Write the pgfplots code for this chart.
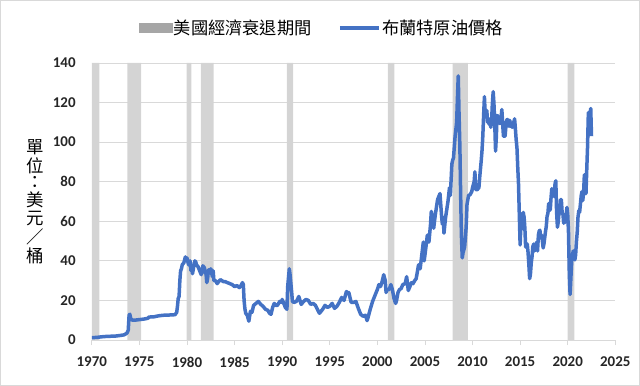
\documentclass[border=0pt]{standalone}
\usepackage{pgfplots}
\pgfplotsset{compat=1.18}
\usepackage{pgfplotstable}
\usepackage{fontspec}
\setmainfont{Carlito}
\newfontfamily\cjk{Noto Sans CJK TC}
\newfontfamily\tickbf{Carlito}[UprightFont={* Bold}]
\definecolor{oil}{HTML}{4472C4}
\definecolor{band}{HTML}{D4D4D4}
\definecolor{bandleg}{HTML}{A6A6A6}
\definecolor{gridc}{HTML}{D9D9D9}
\pgfplotsset{myline legend/.style={legend image code/.code={\draw[##1] (0bp,0bp) -- (39bp,0bp);}}}
\newcommand{\legf}{\cjk\fontsize{17.3}{19}\selectfont}

\pgfplotstableread{
x y
1970.00 1.2
1970.50 1.3
1971.00 1.6
1971.50 1.8
1972.00 1.9
1972.50 2.0
1973.00 2.3
1973.40 2.6
1973.70 3.5
1973.83 5.0
1973.92 12.7
1974.00 13.0
1974.08 11.0
1974.25 10.0
1974.50 10.0
1975.00 10.3
1975.50 10.6
1975.90 11.0
1976.00 11.6
1976.50 11.7
1977.00 12.2
1977.50 12.5
1978.00 12.6
1978.50 12.7
1978.75 12.8
1978.92 14.0
1979.00 17.0
1979.08 21.0
1979.17 22.0
1979.25 30.0
1979.33 35.0
1979.42 36.0
1979.50 38.0
1979.67 39.0
1979.83 42.0
1979.92 40.0
1980.00 41.5
1980.17 38.0
1980.33 40.0
1980.42 35.0
1980.50 36.0
1980.58 33.5
1980.67 36.0
1980.83 40.0
1980.92 39.5
1981.00 38.0
1981.17 37.0
1981.33 35.0
1981.50 33.0
1981.67 37.5
1981.83 36.5
1981.92 34.0
1982.00 33.5
1982.08 29.0
1982.17 31.0
1982.25 35.5
1982.33 34.0
1982.50 36.0
1982.67 32.0
1982.75 35.0
1982.83 30.0
1983.00 30.0
1983.17 28.5
1983.33 29.5
1983.50 30.5
1983.67 30.0
1983.83 29.5
1984.00 29.5
1984.25 29.0
1984.50 28.5
1984.75 28.0
1985.00 27.0
1985.25 27.5
1985.50 26.5
1985.67 27.5
1985.83 29.0
1985.92 28.0
1986.00 20.0
1986.08 16.0
1986.17 13.5
1986.33 12.5
1986.50 9.5
1986.58 12.0
1986.67 14.5
1986.83 14.0
1987.00 17.5
1987.25 18.5
1987.50 19.5
1987.75 18.0
1988.00 17.0
1988.25 15.5
1988.50 15.0
1988.67 13.5
1988.83 13.0
1989.00 16.5
1989.17 18.5
1989.33 17.5
1989.50 17.5
1989.75 19.5
1989.92 19.0
1990.00 20.5
1990.17 18.5
1990.33 16.5
1990.50 15.5
1990.58 27.0
1990.75 36.0
1990.83 33.0
1991.00 24.0
1991.08 19.5
1991.25 19.0
1991.50 19.5
1991.75 22.0
1992.00 18.0
1992.25 19.5
1992.50 20.5
1992.75 20.0
1993.00 18.0
1993.25 18.5
1993.50 17.5
1993.75 15.0
1993.92 13.5
1994.00 14.0
1994.25 15.5
1994.50 17.5
1994.75 16.5
1995.00 17.0
1995.25 18.5
1995.50 16.0
1995.75 17.0
1996.00 19.0
1996.25 21.5
1996.50 20.0
1996.75 24.5
1996.92 23.5
1997.00 24.0
1997.25 19.0
1997.50 19.0
1997.75 19.5
1998.00 16.0
1998.25 13.0
1998.50 12.0
1998.75 12.5
1998.92 9.8
1999.00 11.0
1999.25 15.5
1999.50 19.5
1999.75 22.5
2000.00 25.5
2000.17 28.0
2000.33 27.0
2000.50 29.5
2000.67 33.0
2000.83 30.0
2000.92 24.0
2001.00 25.5
2001.25 25.5
2001.42 28.0
2001.58 25.5
2001.75 21.0
2001.92 18.5
2002.00 19.5
2002.17 24.0
2002.33 25.5
2002.50 26.0
2002.67 28.0
2002.92 28.5
2003.08 32.0
2003.25 25.0
2003.42 27.0
2003.58 29.0
2003.75 28.5
2003.92 30.0
2004.08 31.0
2004.33 38.0
2004.50 36.0
2004.67 43.0
2004.83 49.5
2004.92 40.0
2005.08 46.0
2005.25 53.0
2005.42 49.5
2005.58 58.0
2005.67 65.0
2005.75 62.0
2005.92 56.5
2006.08 63.0
2006.33 71.0
2006.58 74.0
2006.75 62.5
2006.83 58.5
2006.92 62.0
2007.00 54.0
2007.17 62.0
2007.42 70.0
2007.58 77.0
2007.67 73.0
2007.83 89.0
2007.92 91.0
2008.00 92.0
2008.17 103.0
2008.33 110.0
2008.42 123.0
2008.50 133.5
2008.58 115.0
2008.67 98.0
2008.75 74.0
2008.83 53.0
2008.92 41.5
2009.00 44.0
2009.17 47.0
2009.33 57.0
2009.42 68.5
2009.58 73.0
2009.75 73.5
2009.92 75.0
2010.00 77.0
2010.17 80.0
2010.25 85.0
2010.33 76.0
2010.50 76.0
2010.67 77.0
2010.75 82.0
2010.92 91.0
2011.00 96.0
2011.08 103.0
2011.17 114.0
2011.25 123.0
2011.33 114.0
2011.42 113.5
2011.50 116.0
2011.58 110.0
2011.67 112.0
2011.75 109.0
2011.83 110.5
2011.92 107.5
2012.00 110.5
2012.08 119.0
2012.17 125.5
2012.25 119.5
2012.33 110.0
2012.42 95.5
2012.50 102.5
2012.58 113.5
2012.67 113.0
2012.75 111.5
2012.83 109.5
2012.92 109.5
2013.00 112.5
2013.08 116.5
2013.17 109.0
2013.25 103.0
2013.33 103.0
2013.42 103.0
2013.50 107.5
2013.58 111.0
2013.67 111.5
2013.75 109.0
2013.83 108.0
2013.92 111.0
2014.00 108.0
2014.08 109.0
2014.17 107.5
2014.25 108.0
2014.33 110.0
2014.42 111.8
2014.50 107.0
2014.58 101.5
2014.67 97.0
2014.75 87.5
2014.83 79.0
2014.92 62.5
2015.00 48.0
2015.08 58.0
2015.17 56.0
2015.25 60.0
2015.33 64.5
2015.42 62.0
2015.50 56.5
2015.58 47.0
2015.67 48.0
2015.75 48.5
2015.83 44.5
2015.92 38.0
2016.00 31.0
2016.08 33.0
2016.17 39.0
2016.25 42.0
2016.33 47.0
2016.42 48.5
2016.50 45.0
2016.58 46.0
2016.67 46.5
2016.75 49.5
2016.83 45.0
2016.92 53.0
2017.00 55.0
2017.08 55.5
2017.17 51.5
2017.25 53.0
2017.33 50.5
2017.42 46.5
2017.50 48.5
2017.58 51.5
2017.67 55.0
2017.75 57.5
2017.83 62.5
2017.92 64.0
2018.00 69.0
2018.08 65.5
2018.17 66.0
2018.25 72.0
2018.33 76.5
2018.42 74.5
2018.50 74.0
2018.58 72.5
2018.67 79.0
2018.75 80.5
2018.83 65.0
2018.92 57.0
2019.00 59.5
2019.08 64.0
2019.17 66.0
2019.25 71.0
2019.33 71.0
2019.42 64.0
2019.50 63.5
2019.58 59.0
2019.67 62.5
2019.75 59.5
2019.83 63.0
2019.92 67.0
2020.00 63.5
2020.08 55.0
2020.17 33.0
2020.25 23.0
2020.33 31.0
2020.42 40.0
2020.50 43.0
2020.58 45.0
2020.67 41.5
2020.75 40.5
2020.83 43.0
2020.92 50.0
2021.00 54.5
2021.08 62.0
2021.17 65.5
2021.25 64.5
2021.33 68.5
2021.42 73.0
2021.50 75.0
2021.58 70.5
2021.67 74.5
2021.75 83.5
2021.83 81.0
2021.92 74.0
2022.00 86.0
2022.08 97.0
2022.17 115.0
2022.25 104.5
2022.33 113.0
2022.42 117.0
2022.50 103.0
}\brent

\begin{document}
\begin{tikzpicture}
\useasboundingbox (0,0) rectangle (640bp,386bp);
\draw[gridc, line width=0.8bp] (0.5bp,0.5bp) rectangle (639.5bp,385.5bp);
\node[font=\cjk\fontsize{17.5}{17.7}\selectfont, anchor=center, inner sep=0pt]
  at (35bp,184.5bp) {\shortstack{單\\位\\：\\美\\元\\／\\桶}};
\begin{axis}[
  at={(91.8bp,46bp)}, anchor=south west,
  scale only axis, width=523.5bp, height=277bp,
  xmin=1970, xmax=2025, ymin=0, ymax=140,
  xtick={1970,1975,...,2025}, ytick={0,20,...,140},
  axis x line*=bottom, axis y line*=left,
  y axis line style={draw=none},
  x axis line style={gridc, line width=0.8bp},
  tick align=outside,
  major tick length=5bp,
  xtick style={gridc, line width=0.8bp},
  ytick style={draw=none},
  ymajorgrids, grid style={gridc, line width=0.8bp},
  /pgf/number format/1000 sep={},
  /pgf/number format/assume math mode=true,
  tick label style={font=\tickbf\fontsize{15}{17}\selectfont, text=black!85, inner sep=0pt},
  x tick label style={yshift=-11.5bp},
  y tick label style={xshift=-11bp},
  legend style={at={(0.439,1.126)}, anchor=center, draw=none, fill=none,
     legend columns=2, font=\legf, inner sep=0pt,
     nodes={inner sep=1.5bp},
     /tikz/every even column/.append style={column sep=25bp},
     legend cell align=left},
]
\addplot[fill=band, draw=none, forget plot] coordinates {(1970.0,0) (1970.0,140) (1970.8,140) (1970.8,0)} \closedcycle;
\addplot[fill=band, draw=none, forget plot] coordinates {(1973.75,0) (1973.75,140) (1975.17,140) (1975.17,0)} \closedcycle;
\addplot[fill=band, draw=none, forget plot] coordinates {(1979.95,0) (1979.95,140) (1980.45,140) (1980.45,0)} \closedcycle;
\addplot[fill=band, draw=none, forget plot] coordinates {(1981.46,0) (1981.46,140) (1982.8,140) (1982.8,0)} \closedcycle;
\addplot[fill=band, draw=none, forget plot] coordinates {(1990.5,0) (1990.5,140) (1991.15,140) (1991.15,0)} \closedcycle;
\addplot[fill=band, draw=none, forget plot] coordinates {(2001.1,0) (2001.1,140) (2001.8,140) (2001.8,0)} \closedcycle;
\addplot[fill=band, draw=none, forget plot] coordinates {(2007.9,0) (2007.9,140) (2009.5,140) (2009.5,0)} \closedcycle;
\addplot[fill=band, draw=none, forget plot] coordinates {(2020.0,0) (2020.0,140) (2020.7,140) (2020.7,0)} \closedcycle;
\addlegendimage{legend image code/.code={\fill[bandleg] (0bp,-4.5bp) rectangle (33bp,4.5bp);}}
\addlegendentry{\legf 美國經濟衰退期間}
\addplot[oil, line width=3.5bp, line join=round, myline legend] table[x=x,y=y] {\brent};
\addlegendentry{\legf 布蘭特原油價格}
\end{axis}
\end{tikzpicture}
\end{document}
